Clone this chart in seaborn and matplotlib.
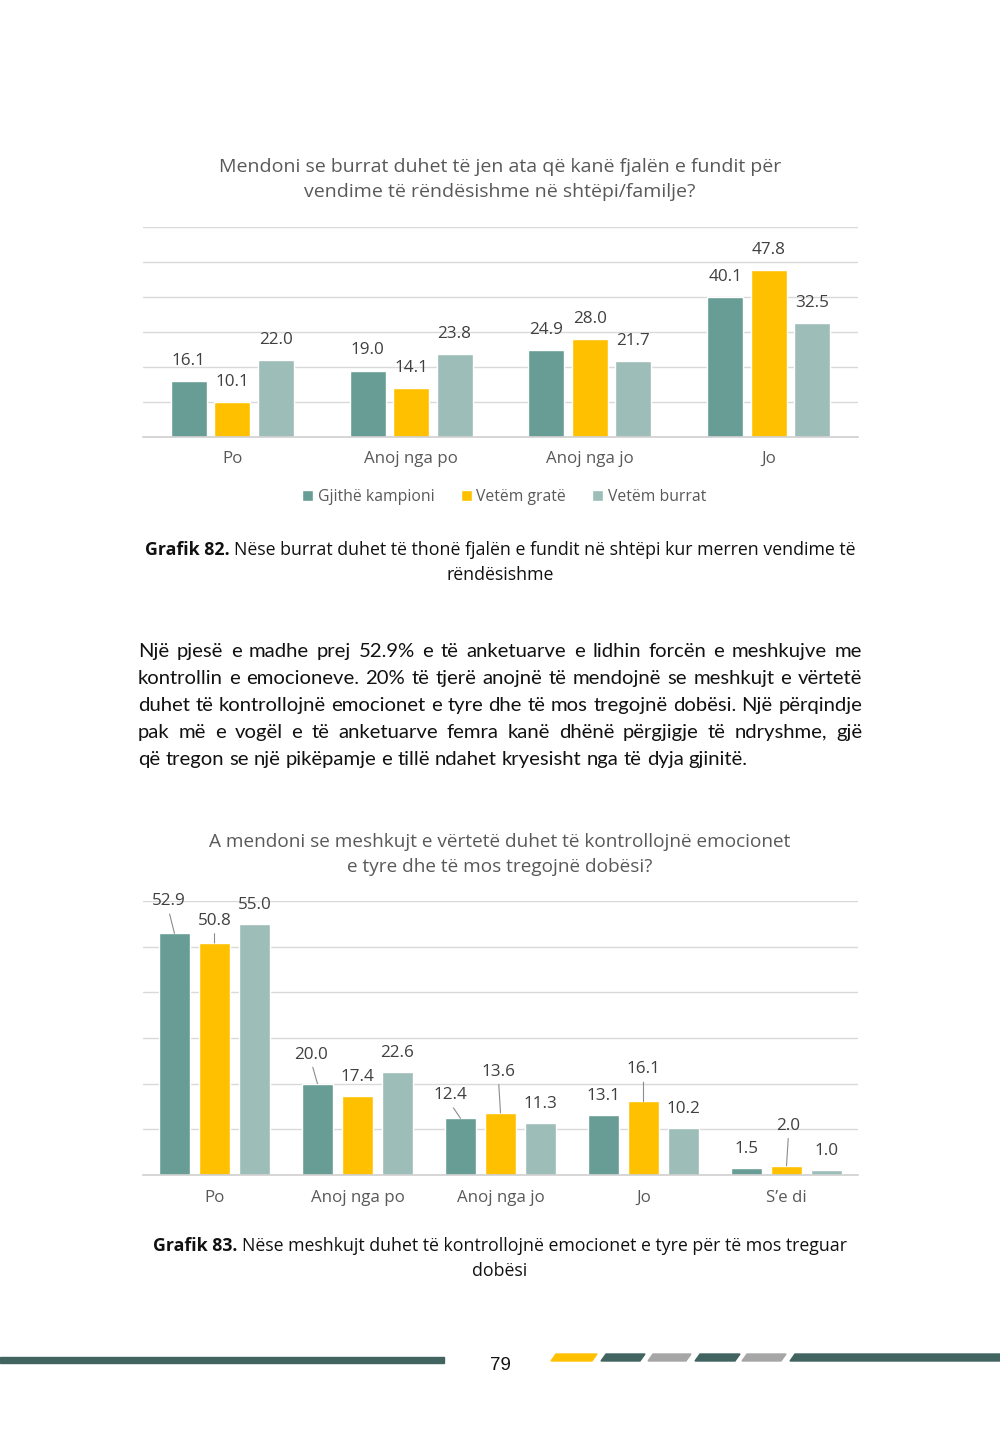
import matplotlib
matplotlib.use('Agg')
import matplotlib.pyplot as plt
import seaborn as sns
import pandas as pd
from matplotlib.patches import Polygon, Rectangle

sns.set_style('white')
FONT = ['Open Sans', 'DejaVu Sans']
BODY = ['Lato', 'DejaVu Sans']
plt.rcParams['font.family'] = FONT

W, H = 1000, 1448

# ---------------- data ----------------
groups = ['Gjithë kampioni', 'Vetëm gratë', 'Vetëm burrat']
colors = ['#689D96', '#FFC000', '#9DBDB8']

cats1 = ['Po', 'Anoj nga po', 'Anoj nga jo', 'Jo']
all1 = [16.1, 19.0, 24.9, 40.1]
women1 = [10.1, 14.1, 28.0, 47.8]
men1 = [22.0, 23.8, 21.7, 32.5]

cats2 = ['Po', 'Anoj nga po', 'Anoj nga jo', 'Jo', 'S’e di']
all2 = [52.9, 20.0, 12.4, 13.1, 1.5]
women2 = [50.8, 17.4, 13.6, 16.1, 2.0]
men2 = [55.0, 22.6, 11.3, 10.2, 1.0]

title1 = ['Mendoni se burrat duhet të jen ata që kanë fjalën e fundit për',
          'vendime të rëndësishme në shtëpi/familje?']
title2 = ['A mendoni se meshkujt e vërtetë duhet të kontrollojnë emocionet',
          'e tyre dhe të mos tregojnë dobësi?']
caption1 = [('Grafik 82.', 'Nëse burrat duhet të thonë fjalën e fundit në shtëpi kur merren vendime të'),
            ('', 'rëndësishme')]
caption2 = [('Grafik 83.', 'Nëse meshkujt duhet të kontrollojnë emocionet e tyre për të mos treguar'),
            ('', 'dobësi')]
paragraph = [
    'Një pjesë e madhe prej 52.9% e të anketuarve e lidhin forcën e meshkujve me',
    'kontrollin e emocioneve. 20% të tjerë anojnë të mendojnë se meshkujt e vërtetë',
    'duhet të kontrollojnë emocionet e tyre dhe të mos tregojnë dobësi. Një përqindje',
    'pak më e vogël e të anketuarve femra kanë dhënë përgjigje të ndryshme, gjë',
    'që tregon se një pikëpamje e tillë ndahet kryesisht nga të dyja gjinitë.',
]
page_number = '79'

# label placement for chart 2 (series index, category index) -> offset px (dx, dy), with leader line
leader2 = {(0, 0): (-6, 32), (1, 0): (0, 22), (0, 1): (-6, 29), (0, 2): (-10, 23),
           (1, 2): (-2, 41), (1, 3): (0, 32), (1, 4): (2, 40)}

GREY = '#595959'
GRID = '#D9D9D9'

fig = plt.figure(figsize=(W / 100, H / 100), dpi=100)
fig.patch.set_facecolor('white')


def frac(x, y):
    return x / W, 1 - y / H


def long_df(cats, series):
    rows = []
    for g, vals in zip(groups, series):
        for c, v in zip(cats, vals):
            rows.append({'cat': c, 'val': v, 'group': g})
    return pd.DataFrame(rows)


def make_axes(top, bottom):
    l, r = 143, 858
    return fig.add_axes([l / W, 1 - bottom / H, (r - l) / W, (bottom - top) / H])


def style_axes(ax, ncats, pad):
    ax.set_ylim(0, 60)
    ax.set_xlim(-0.5, ncats - 0.5)
    ax.set_yticks(range(0, 61, 10))
    ax.set_yticklabels([])
    ax.yaxis.grid(True, color=GRID, lw=1)
    ax.set_axisbelow(True)
    for s in ['left', 'right', 'top']:
        ax.spines[s].set_visible(False)
    ax.spines['bottom'].set_color('#D0D0D0')
    ax.spines['bottom'].set_linewidth(1.2)
    ax.tick_params(axis='x', length=0, pad=pad, labelsize=12.2, labelcolor=GREY)
    ax.tick_params(axis='y', length=0)
    ax.set_xlabel('')
    ax.set_ylabel('')


LABEL_SIZE = 12.3
LABEL_COLOR = '#404040'

# ---------------- chart 1 ----------------
ax1 = make_axes(227, 437)
df1 = long_df(cats1, [all1, women1, men1])
sns.barplot(data=df1, x='cat', y='val', hue='group', palette=colors, width=0.73, gap=0.17,
            ax=ax1, saturation=1, errorbar=None)
style_axes(ax1, len(cats1), 10)
for si, cont in enumerate(ax1.containers):
    vals = [all1, women1, men1][si]
    for ci, bar in enumerate(cont):
        x = bar.get_x() + bar.get_width() / 2
        ax1.annotate(f'{vals[ci]:.1f}', xy=(x, bar.get_height()), xytext=(0, 20),
                     textcoords='offset pixels', ha='center', va='center',
                     fontsize=LABEL_SIZE, color=LABEL_COLOR)
sns.move_legend(ax1, 'center', bbox_to_anchor=(0.505, -0.285), ncol=3, title=None,
                frameon=False, fontsize=11.3, handlelength=0.7, handleheight=0.7,
                handletextpad=0.3, columnspacing=1.65, labelcolor=GREY)

# ---------------- chart 2 ----------------
ax2 = make_axes(901, 1175)
df2 = long_df(cats2, [all2, women2, men2])
sns.barplot(data=df2, x='cat', y='val', hue='group', palette=colors, width=0.84, gap=0.225,
            ax=ax2, saturation=1, errorbar=None, legend=False)
style_axes(ax2, len(cats2), 11)
for si, cont in enumerate(ax2.containers):
    vals = [all2, women2, men2][si]
    for ci, bar in enumerate(cont):
        x = bar.get_x() + bar.get_width() / 2
        if (si, ci) in leader2:
            dx, dy = leader2[(si, ci)]
            ax2.annotate(f'{vals[ci]:.1f}', xy=(x, bar.get_height()), xytext=(dx, dy),
                         textcoords='offset pixels', ha='center', va='center',
                         fontsize=LABEL_SIZE, color=LABEL_COLOR, annotation_clip=False,
                         arrowprops=dict(arrowstyle='-', color='#8C8C8C', lw=0.8,
                                         relpos=(0.5, 0.0), shrinkA=1, shrinkB=0))
        else:
            ax2.annotate(f'{vals[ci]:.1f}', xy=(x, bar.get_height()), xytext=(0, 19),
                         textcoords='offset pixels', ha='center', va='center',
                         fontsize=LABEL_SIZE, color=LABEL_COLOR, annotation_clip=False)

# ---------------- texts ----------------
for line, yb in zip(title1, [172, 197]):
    fig.text(*frac(500, yb), line, ha='center', va='baseline', fontsize=14.0, color=GREY)
for line, yb in zip(title2, [847, 872]):
    fig.text(*frac(500, yb), line, ha='center', va='baseline', fontsize=13.7, color=GREY)

renderer = fig.canvas.get_renderer()


def width_of(t):
    return t.get_window_extent(renderer=renderer).width


def space_width(size, family, weight='normal'):
    a = fig.text(0, 0, 'x x', fontsize=size, fontweight=weight, family=family)
    b = fig.text(0, 0, 'xx', fontsize=size, fontweight=weight, family=family)
    w = width_of(a) - width_of(b)
    a.remove(); b.remove()
    return w


def caption(lines, ys, size=12.8):
    sp = space_width(size, FONT)
    for (bold, rest), yb in zip(lines, ys):
        parts = []
        if bold:
            parts.append(fig.text(0, 0, bold, fontsize=size, fontweight='bold', color='#111111',
                                  va='baseline', family=FONT))
        parts.append(fig.text(0, 0, rest, fontsize=size, color='#111111', va='baseline', family=FONT))
        ws = [width_of(p) for p in parts]
        total = sum(ws) + sp * (len(parts) - 1)
        x = 500 - total / 2
        for p, w in zip(parts, ws):
            p.set_position(frac(x, yb))
            x += w + sp


caption(caption1, [555, 580])
caption(caption2, [1251, 1276])


def justify(lines, x0, x1, ys, size):
    sp = space_width(size, BODY)
    for i, (line, yb) in enumerate(zip(lines, ys)):
        words = line.split(' ')
        ts = [fig.text(0, 0, w, fontsize=size, color='#111111', va='baseline', family=BODY)
              for w in words]
        ws = [width_of(t) for t in ts]
        last = i == len(lines) - 1
        gap = sp if last else (x1 - x0 - sum(ws)) / (len(words) - 1)
        x = x0
        for t, w in zip(ts, ws):
            t.set_position(frac(x, yb))
            x += w + gap


justify(paragraph, 138, 862, [657, 684, 711, 738, 765], 14.6)

fig.text(*frac(500, 1370), page_number, ha='center', va='baseline', fontsize=13.5,
         family=['Liberation Sans Narrow', 'Liberation Sans', 'DejaVu Sans'], color='#111111')

# ---------------- footer decoration ----------------
DARK = '#416460'
fig.patches.append(Rectangle(frac(0, 1363), 444 / W, 6 / H, transform=fig.transFigure,
                             color=DARK, figure=fig))
segs = [(551, 597, '#FFC000'), (601, 645, DARK), (648, 691, '#A6A6A6'),
        (695, 740, DARK), (742, 786, '#A6A6A6'), (790, 1006, DARK)]
for xa, xb, c in segs:
    yt, ybt, s = 1354, 1361, 5
    pts = [frac(xa, ybt), frac(xb - s, ybt), frac(xb, yt), frac(xa + s, yt)]
    fig.patches.append(Polygon(pts, closed=True, transform=fig.transFigure, color=c, figure=fig))

fig.savefig('out.png', dpi=100, facecolor='white')
